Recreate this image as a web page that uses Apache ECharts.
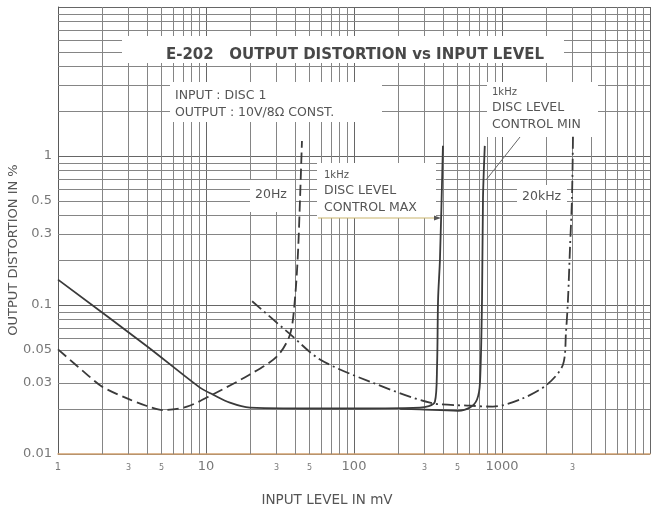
<!DOCTYPE html>
<html>
<head>
<meta charset="utf-8">
<script src="https://cdn.jsdelivr.net/npm/echarts@6/dist/echarts.min.js"></script>
<style>
html,body{margin:0;padding:0;background:#ffffff;}
#chart{width:651px;height:510px;}
</style>
</head>
<body>
<div id="chart"></div>
<script>
// ---------------- data ----------------
// 1 kHz, disc level control MAX (solid)
const max1kX = [1, 3.99, 9.1, 11.1, 14.5, 19.8, 72, 279, 352, 364, 370, 381, 399];
const max1kY = [0.148, 0.0529, 0.0279, 0.0251, 0.0221, 0.0205, 0.0202, 0.0205, 0.0224, 0.0387, 0.11, 0.204, 1.17];
// 1 kHz, disc level control MIN (solid)
const min1kX = [205, 279, 504, 608, 678, 710, 733, 744, 765];
const min1kY = [0.0201, 0.0199, 0.0195, 0.0205, 0.0232, 0.0302, 0.11, 0.52, 1.17];
// 20 Hz (dashed)
const hz20X = [1, 1.6, 2.0, 2.93, 3.99, 5.12, 7.44, 11.1, 19.8, 30.2, 37.0, 39.9, 41.8, 43.2, 44.5];
const hz20Y = [0.0504, 0.0336, 0.0282, 0.0236, 0.0210, 0.0197, 0.0208, 0.0251, 0.0342, 0.0452, 0.0637, 0.11, 0.221, 0.52, 1.26];
// 20 kHz (dash-dot)
const khz20X = [20.5, 37, 58.9, 128, 326, 608, 869, 1324, 2014, 2584, 2706, 2793, 2879, 2970, 3018];
const khz20Y = [0.106, 0.0637, 0.0431, 0.0306, 0.0221, 0.0211, 0.0208, 0.0232, 0.0292, 0.0399, 0.0657, 0.11, 0.239, 0.52, 1.36];

// tick labels
const xTickValues = [1, 3, 5, 10, 30, 50, 100, 300, 500, 1000, 3000];
const xTickLabels = ['1', '3', '5', '10', '3', '5', '100', '3', '5', '1000', '3'];
const yTickValues = [0.01, 0.03, 0.05, 0.1, 0.3, 0.5, 1];
const yTickLabels = ['0.01', '0.03', '0.05', '0.1', '0.3', '0.5', '1'];

// log-paper minor grid (multiples 2..9 of each decade)
const xDecades = [1, 10, 100, 1000];
const yDecades = [0.01, 0.1, 1];
const multiples = [2, 3, 4, 5, 6, 7, 8, 9];

// ---------------- build ----------------
const zip = (xs, ys) => xs.map((x, i) => [x, ys[i]]);
const gridMarks = [];
xDecades.forEach(d => multiples.forEach(m => gridMarks.push({ xAxis: +(m * d).toPrecision(6) })));
yDecades.forEach(d => multiples.forEach(m => gridMarks.push({ yAxis: +(m * d).toPrecision(6) })));

const FONT = '"DejaVu Sans", sans-serif';
const INK = '#3a3a3a';
const TXT = '#555555';

const xLabelData = xTickValues.map((v, i) => {
  const t = xTickLabels[i];
  const small = (t === '3' || t === '5');
  return {
    value: [v, 0.01],
    label: { fontSize: small ? 8 : (t === '1' ? 10 : 13), offset: [0, small ? 14 : 13] }
  };
});
const yLabelData = yTickValues.map(v => ({ value: [1, v] }));

const lineBase = {
  type: 'line', showSymbol: false, symbol: 'none', smooth: 0.3,
  z: 10, animation: false, clip: true
};

const option = {
  backgroundColor: '#ffffff',
  animation: false,
  grid: { left: 58, right: 1, top: 7, bottom: 56, containLabel: false },
  xAxis: {
    type: 'log', logBase: 10, min: 1, max: 10000,
    axisLine: { show: true, lineStyle: { color: '#d2a272', width: 1.5 } },
    axisTick: { show: false },
    axisLabel: { show: false },
    splitLine: { show: true, lineStyle: { color: '#666666', width: 1 } }
  },
  yAxis: {
    type: 'log', logBase: 10, min: 0.01, max: 10,
    axisLine: { show: true, onZero: false, lineStyle: { color: '#5a5a5a', width: 1 } },
    axisTick: { show: false },
    axisLabel: { show: false },
    splitLine: { show: true, lineStyle: { color: '#666666', width: 1 } }
  },
  series: [
    {
      name: 'grid', type: 'line', data: [], z: 1, silent: true, animation: false,
      markLine: {
        silent: true, z: 1, animation: false, symbol: ['none', 'none'],
        label: { show: false },
        lineStyle: { color: '#858585', width: 1, type: 'solid' },
        emphasis: { disabled: true },
        data: gridMarks
      }
    },
    Object.assign({}, lineBase, {
      name: '1kHz DISC LEVEL CONTROL MAX', data: zip(max1kX, max1kY),
      lineStyle: { color: INK, width: 1.8, type: 'solid' }
    }),
    Object.assign({}, lineBase, {
      name: '1kHz DISC LEVEL CONTROL MIN', data: zip(min1kX, min1kY),
      lineStyle: { color: INK, width: 1.8, type: 'solid' }
    }),
    Object.assign({}, lineBase, {
      name: '20Hz', data: zip(hz20X, hz20Y),
      lineStyle: { color: INK, width: 1.8, type: [11, 5] }
    }),
    Object.assign({}, lineBase, {
      name: '20kHz', data: zip(khz20X, khz20Y),
      lineStyle: { color: INK, width: 1.8, type: [12, 4, 2, 4] }
    }),
    {
      name: 'xTicks', type: 'scatter', data: xLabelData, symbolSize: 1, clip: false, z: 20, silent: true,
      itemStyle: { color: 'rgba(0,0,0,0)' },
      label: {
        show: true, position: 'inside', color: TXT, fontFamily: FONT,
        align: 'center', verticalAlign: 'middle',
        formatter: p => xTickLabels[p.dataIndex]
      }
    },
    {
      name: 'yTicks', type: 'scatter', data: yLabelData, symbolSize: 1, clip: false, z: 20, silent: true,
      itemStyle: { color: 'rgba(0,0,0,0)' },
      label: {
        show: true, position: 'inside', color: TXT, fontFamily: FONT, fontSize: 13,
        align: 'right', verticalAlign: 'middle', offset: [-6, 0],
        formatter: p => yTickLabels[p.dataIndex]
      }
    }
  ],
  graphic: [
    // white label backgrounds (cover the log-paper grid)
    { type: 'rect', z: 6, silent: true, shape: { x: 122, y: 36, width: 442, height: 27 }, style: { fill: '#ffffff' } },
    { type: 'rect', z: 6, silent: true, shape: { x: 170, y: 82, width: 212, height: 40 }, style: { fill: '#ffffff' } },
    { type: 'rect', z: 6, silent: true, shape: { x: 487, y: 82, width: 111, height: 55 }, style: { fill: '#ffffff' } },
    { type: 'rect', z: 6, silent: true, shape: { x: 317, y: 163, width: 119, height: 55 }, style: { fill: '#ffffff' } },
    { type: 'rect', z: 6, silent: true, shape: { x: 250, y: 180, width: 45, height: 32 }, style: { fill: '#ffffff' } },
    { type: 'rect', z: 6, silent: true, shape: { x: 517, y: 185, width: 50, height: 25 }, style: { fill: '#ffffff' } },
    // title
    { type: 'text', z: 30, x: 355, y: 55, style: { text: 'E-202   OUTPUT DISTORTION vs INPUT LEVEL', font: 'bold 15px ' + FONT, fill: '#484848', textAlign: 'center', textVerticalAlign: 'middle' } },
    { type: 'text', z: 30, x: 175, y: 96, style: { text: 'INPUT : DISC 1', font: '12.5px ' + FONT, fill: TXT, textAlign: 'left', textVerticalAlign: 'middle' } },
    { type: 'text', z: 30, x: 175, y: 113, style: { text: 'OUTPUT : 10V/8Ω CONST.', font: '12.5px ' + FONT, fill: TXT, textAlign: 'left', textVerticalAlign: 'middle' } },
    // 1kHz MIN note
    { type: 'text', z: 30, x: 492, y: 92, style: { text: '1kHz', font: '10px ' + FONT, fill: TXT, textAlign: 'left', textVerticalAlign: 'middle' } },
    { type: 'text', z: 30, x: 492, y: 108, style: { text: 'DISC LEVEL', font: '12.5px ' + FONT, fill: TXT, textAlign: 'left', textVerticalAlign: 'middle' } },
    { type: 'text', z: 30, x: 492, y: 125, style: { text: 'CONTROL MIN', font: '12.5px ' + FONT, fill: TXT, textAlign: 'left', textVerticalAlign: 'middle' } },
    { type: 'line', z: 30, silent: true, shape: { x1: 520, y1: 137, x2: 486, y2: 180 }, style: { stroke: '#666', lineWidth: 1 } },
    // 1kHz MAX note
    { type: 'text', z: 30, x: 324, y: 175, style: { text: '1kHz', font: '10px ' + FONT, fill: TXT, textAlign: 'left', textVerticalAlign: 'middle' } },
    { type: 'text', z: 30, x: 324, y: 191, style: { text: 'DISC LEVEL', font: '12.5px ' + FONT, fill: TXT, textAlign: 'left', textVerticalAlign: 'middle' } },
    { type: 'text', z: 30, x: 324, y: 208, style: { text: 'CONTROL MAX', font: '12.5px ' + FONT, fill: TXT, textAlign: 'left', textVerticalAlign: 'middle' } },
    { type: 'line', z: 30, silent: true, shape: { x1: 318, y1: 218, x2: 436, y2: 218 }, style: { stroke: '#c9b46c', lineWidth: 1 } },
    { type: 'polygon', z: 30, silent: true, shape: { points: [[434, 215.5], [441, 218], [434, 220.5]] }, style: { fill: '#555' } },
    // frequency notes
    { type: 'text', z: 30, x: 255, y: 195, style: { text: '20Hz', font: '12.5px ' + FONT, fill: TXT, textAlign: 'left', textVerticalAlign: 'middle' } },
    { type: 'text', z: 30, x: 522, y: 197, style: { text: '20kHz', font: '12.5px ' + FONT, fill: TXT, textAlign: 'left', textVerticalAlign: 'middle' } },
    // axis names
    { type: 'text', z: 30, x: 14, y: 250, rotation: Math.PI / 2, style: { text: 'OUTPUT DISTORTION IN %', font: '13px ' + FONT, fill: TXT, textAlign: 'center', textVerticalAlign: 'middle' } },
    { type: 'text', z: 30, x: 327, y: 500, style: { text: 'INPUT LEVEL IN mV', font: '13.5px ' + FONT, fill: TXT, textAlign: 'center', textVerticalAlign: 'middle' } }
  ]
};

const chart = echarts.init(document.getElementById('chart'), null, { renderer: 'canvas' });
chart.setOption(option);
</script>
</body>
</html>
